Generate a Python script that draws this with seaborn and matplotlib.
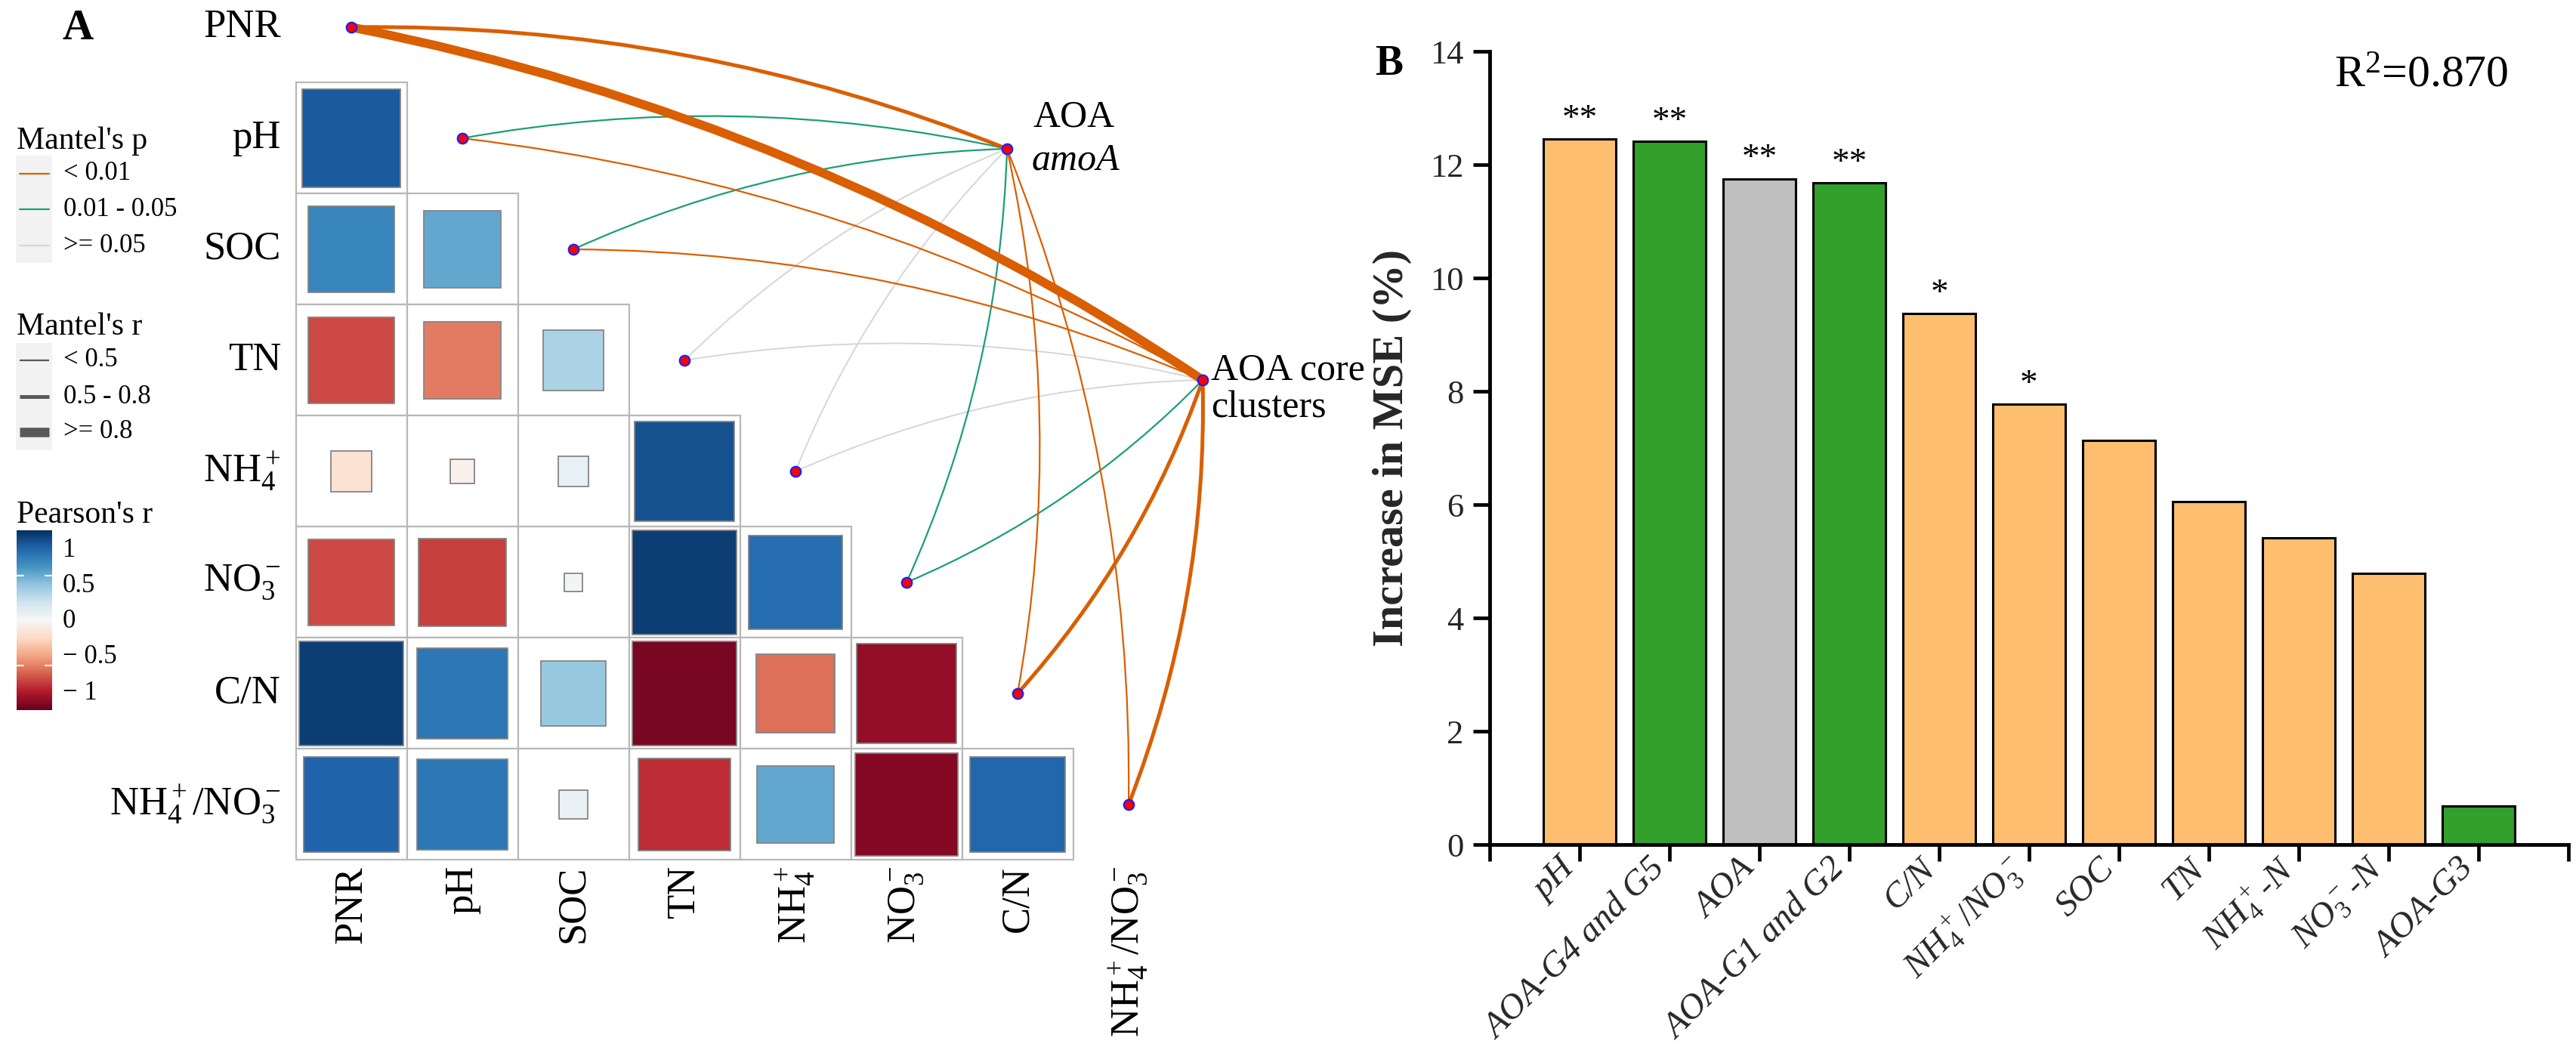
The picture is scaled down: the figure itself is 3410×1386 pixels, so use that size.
import numpy as np
import pandas as pd
import matplotlib
matplotlib.use("Agg")
import matplotlib.pyplot as plt
import matplotlib.transforms as mtransforms
from matplotlib.patches import Rectangle, PathPatch
from matplotlib.path import Path
from matplotlib.lines import Line2D
import seaborn as sns

# ---------------- data: panel A ----------------
env_vars = ["PNR", "pH", "SOC", "TN", "NH4+", "NO3-", "C/N", "NH4+/NO3-"]
env_labels = ["PNR", "pH", "SOC", "TN", r"NH$_4^+$", r"NO$_3^-$", "C/N", r"NH$_4^+$/NO$_3^-$"]

# lower triangle of Pearson's r (row variable vs. earlier column variables)
pearson_pH = [0.84]
pearson_SOC = [0.66, 0.52]
pearson_TN = [-0.66, -0.52, 0.32]
pearson_NH4 = [-0.15, -0.05, 0.08, 0.87]
pearson_NO3 = [-0.66, -0.68, 0.03, 0.95, 0.76]
pearson_CN = [0.95, 0.72, 0.38, -0.95, -0.55, -0.88]
pearson_ratio = [0.80, 0.72, 0.07, -0.74, 0.52, -0.92, 0.79]
pearson_rows = [pearson_pH, pearson_SOC, pearson_TN, pearson_NH4,
                pearson_NO3, pearson_CN, pearson_ratio]

targets = ["AOA amoA", "AOA core clusters"]
mantel_r_amoA = [0.62, 0.28, 0.26, 0.15, 0.12, 0.24, 0.34, 0.31]
mantel_p_amoA = [0.001, 0.021, 0.034, 0.180, 0.270, 0.029, 0.003, 0.006]
mantel_r_core = [0.86, 0.33, 0.31, 0.10, 0.08, 0.27, 0.58, 0.61]
mantel_p_core = [0.001, 0.004, 0.007, 0.310, 0.420, 0.018, 0.001, 0.001]

# ---------------- data: panel B ----------------
rf_vars = ["pH", "AOA-G4 and G5", "AOA", "AOA-G1 and G2", "C/N", "NH4+/NO3-",
           "SOC", "TN", "NH4+-N", "NO3--N", "AOA-G3"]
rf_labels = ["pH", "AOA-G4 and G5", "AOA", "AOA-G1 and G2", "C/N",
             r"$\mathit{NH}_4^+/\mathit{NO}_3^-$", "SOC", "TN",
             r"$\mathit{NH}_4^+$-N", r"$\mathit{NO}_3^-$-N", "AOA-G3"]
rf_mse = [12.45, 12.41, 11.75, 11.68, 9.37, 7.77, 7.13, 6.05, 5.42, 4.79, 0.68]
rf_group = ["soil", "group", "total", "group", "soil", "soil", "soil", "soil",
            "soil", "soil", "group"]
rf_sig = ["**", "**", "**", "**", "*", "*", "", "", "", "", ""]
r2_text = "0.870"

# ---------------- style ----------------
sns.set_theme(style="ticks")
plt.rcParams["font.family"] = "serif"
plt.rcParams["font.serif"] = ["Liberation Serif", "DejaVu Serif"]
plt.rcParams["mathtext.fontset"] = "custom"
plt.rcParams["mathtext.rm"] = "Liberation Serif"
plt.rcParams["mathtext.it"] = "Liberation Serif:italic"
plt.rcParams["mathtext.bf"] = "Liberation Serif:bold"
plt.rcParams["text.color"] = "black"
SERIF = ["Liberation Serif", "DejaVu Serif"]

W, H = 3410, 1386
fig = plt.figure(figsize=(W / 100, H / 100), dpi=100)
fig.patch.set_facecolor("white")


def fx(x):
    return x / W


def fy(y):
    return 1 - y / H


# ---------------- panel A ----------------
CELL, X0, Y0 = 147.0, 465.0, 36.0
A_RIGHT = 1780
axA = fig.add_axes([0, 0, A_RIGHT / W, 1])

cmap = plt.get_cmap("RdBu")
norm = matplotlib.colors.Normalize(vmin=-1, vmax=1)

for i, row in enumerate(pearson_rows):
    k = i + 1
    for c, r in enumerate(row):
        axA.add_patch(Rectangle((c - 0.5, k - 0.5), 1, 1, facecolor="white",
                                edgecolor="#B8B8B8", lw=1.6, zorder=1))
        s = 0.96 * np.sqrt(abs(r))
        axA.add_patch(Rectangle((c - s / 2, k - s / 2), s, s,
                                facecolor=cmap(norm(r)), edgecolor="#858585",
                                lw=1.3, zorder=2))

# target node layout (cell units)
target_pos = {"AOA amoA": (5.905, 1.095), "AOA core clusters": (7.667, 3.177)}

ORANGE, GREEN, LGREY = "#D95F02", "#1B9E77", "#D6D6D6"


def p_style(p):
    if p < 0.01:
        return ORANGE, 4
    if p < 0.05:
        return GREEN, 3
    return LGREY, 2


def r_width(r):
    if r < 0.5:
        return 1.6
    if r < 0.8:
        return 3.6
    return 8.5


n_env = len(env_vars)
curv_sign = np.where(np.arange(n_env) <= n_env // 2, -1, 1)

edges = []
for tname, rr, pp in [("AOA amoA", mantel_r_amoA, mantel_p_amoA),
                      ("AOA core clusters", mantel_r_core, mantel_p_core)]:
    for k in range(n_env):
        edges.append((k, tname, rr[k], pp[k]))

for k, tname, r, p in edges:
    p0 = np.array([k, k], float)
    p2 = np.array(target_pos[tname], float)
    d = p2 - p0
    L = np.hypot(*d)
    nvec = np.array([-d[1], d[0]]) / L
    ctrl = (p0 + p2) / 2 + curv_sign[k] * 0.1 * L * nvec
    path = Path([p0, ctrl, p2], [Path.MOVETO, Path.CURVE3, Path.CURVE3])
    col, z = p_style(p)
    lw = r_width(r) if col != LGREY else 1.4
    axA.add_patch(PathPatch(path, facecolor="none", edgecolor=col, lw=lw,
                            capstyle="butt", zorder=z + (0.5 if r >= 0.5 else 0)))

nodes = pd.DataFrame({
    "x": list(range(n_env)) + [target_pos[t][0] for t in targets],
    "y": list(range(n_env)) + [target_pos[t][1] for t in targets],
})
sns.scatterplot(data=nodes, x="x", y="y", ax=axA, s=95, color="#FF0000",
                edgecolor="#1F1FFF", linewidth=1.6, zorder=10, legend=False)
axA.set_xlim(-X0 / CELL, (A_RIGHT - X0) / CELL)
axA.set_ylim((H - Y0) / CELL, -Y0 / CELL)
axA.axis("off")

# row and column labels
for k, lab in enumerate(env_labels):
    axA.text(-0.633, k, lab, ha="right", va="center", fontsize=38, family=SERIF)
    axA.text(k, 7.55, lab, ha="right", va="center", rotation=90,
             rotation_mode="anchor", fontsize=38, family=SERIF)


def px2a(x, y):
    return ((x - X0) / CELL, (y - Y0) / CELL)


axA.text(*px2a(1368, 155), "AOA", ha="left", va="center", fontsize=36, family=SERIF)
axA.text(*px2a(1366, 212), "amoA", ha="left", va="center", fontsize=36,
         fontstyle="italic", family=SERIF)
axA.text(*px2a(1603, 490), "AOA core", ha="left", va="center", fontsize=36, family=SERIF)
axA.text(*px2a(1603, 540), "clusters", ha="left", va="center", fontsize=36, family=SERIF)

fig.text(fx(103), fy(38), "A", ha="center", va="center", fontsize=41,
         fontweight="bold", family=SERIF)

# legends
fig.text(fx(22), fy(187), "Mantel's p", ha="left", va="center", fontsize=30, family=SERIF)
fig.add_artist(Rectangle((fx(21), fy(348)), fx(69) - fx(21), (348 - 206) / H,
                         transform=fig.transFigure, facecolor="#F2F2F2",
                         edgecolor="none"))
for yy, colr, lab in [(230, ORANGE, "< 0.01"), (277, GREEN, "0.01 - 0.05"),
                      (325, LGREY, ">= 0.05")]:
    fig.add_artist(Line2D([fx(26), fx(65)], [fy(yy), fy(yy)], color=colr,
                          lw=1.6, transform=fig.transFigure))
    fig.text(fx(84), fy(yy), lab, ha="left", va="center", fontsize=25, family=SERIF)

fig.text(fx(22), fy(433), "Mantel's r", ha="left", va="center", fontsize=30, family=SERIF)
fig.add_artist(Rectangle((fx(21), fy(596)), fx(69) - fx(21), (596 - 454) / H,
                         transform=fig.transFigure, facecolor="#F2F2F2",
                         edgecolor="none"))
for yy, lw, lab in [(477, 1.6, "< 0.5"), (525, 3.6, "0.5 - 0.8"),
                    (572, 9.0, ">= 0.8")]:
    fig.add_artist(Line2D([fx(26), fx(65)], [fy(yy), fy(yy)], color="#595959",
                          lw=lw, solid_capstyle="butt",
                          transform=fig.transFigure))
    fig.text(fx(84), fy(yy), lab, ha="left", va="center", fontsize=25, family=SERIF)

fig.text(fx(22), fy(682), "Pearson's r", ha="left", va="center", fontsize=30, family=SERIF)
cax = fig.add_axes([fx(22), fy(940), (69 - 22) / W, (940 - 702) / H])
cax.imshow(np.linspace(1, -1, 256)[:, None], aspect="auto", cmap=cmap,
           norm=norm, extent=(0, 1, -1, 1), origin="upper")
for v in [-0.5, 0.5]:
    cax.plot([0, 0.2], [v, v], color="white", lw=1.5)
    cax.plot([0.8, 1], [v, v], color="white", lw=1.5)
cax.set_xlim(0, 1)
cax.set_ylim(-1, 1)
cax.axis("off")
for v, lab in [(1, "1"), (0.5, "0.5"), (0, "0"), (-0.5, "\u2212 0.5"),
               (-1, "\u2212 1")]:
    fig.text(fx(83), fy(822.5 - 94.5 * v), lab, ha="left", va="center",
             fontsize=25, family=SERIF)

# ---------------- panel B ----------------
B_L, B_R, B_T, B_B = 1972, 3400, 68, 1118
axB = fig.add_axes([fx(B_L), fy(B_B), (B_R - B_L) / W, (B_B - B_T) / H])
palette = {"soil": "#FDBF6F", "group": "#33A02C", "total": "#BFBFBF"}
dfB = pd.DataFrame({"var": rf_vars, "mse": rf_mse, "group": rf_group})
sns.barplot(data=dfB, x="var", y="mse", hue="group", palette=palette,
            order=rf_vars, dodge=False, legend=False, width=0.8,
            edgecolor="black", linewidth=2.2, saturation=1, ax=axB)

axB.set_xlim(-1, 11)
axB.set_ylim(0, 14)
axB.set_yticks(np.arange(0, 15, 2))
axB.set_yticklabels([str(v) for v in range(0, 15, 2)], fontsize=32, family=SERIF)
axB.set_xticks(np.arange(-1, 12))
axB.set_xticklabels([""] + rf_labels + [""], rotation=45, ha="right",
                    va="center", rotation_mode="anchor", fontsize=34,
                    fontstyle="italic", family=SERIF)
axB.tick_params(axis="both", direction="out", length=16, width=3.4,
                color="black")
axB.tick_params(axis="y", pad=9)
axB.tick_params(axis="x", pad=3)
offset = mtransforms.ScaledTranslation(-12 / 100, 0, fig.dpi_scale_trans)
for lab in axB.get_xticklabels():
    lab.set_transform(lab.get_transform() + offset)
for sp in ["top", "right"]:
    axB.spines[sp].set_visible(False)
for sp in ["left", "bottom"]:
    axB.spines[sp].set_linewidth(3.5)
    axB.spines[sp].set_color("black")
axB.set_xlabel("")
axB.set_ylabel("Increase in MSE (%)", fontsize=42, fontweight="bold", family=SERIF)
axB.yaxis.set_label_coords(-0.072, 0.5)
axB.set_facecolor("white")

for i, (v, s) in enumerate(zip(rf_mse, rf_sig)):
    if s:
        axB.text(i, v + 0.19, s, ha="center", va="baseline", fontsize=34, family=SERIF)

fig.text(fx(3090), fy(115), r"R$^2$=" + r2_text, ha="left", va="baseline",
         fontsize=43, family=SERIF)
fig.text(fx(1839), fy(85), "B", ha="center", va="center", fontsize=40,
         fontweight="bold", family=SERIF)

fig.savefig("out.png", dpi=100, facecolor="white")
